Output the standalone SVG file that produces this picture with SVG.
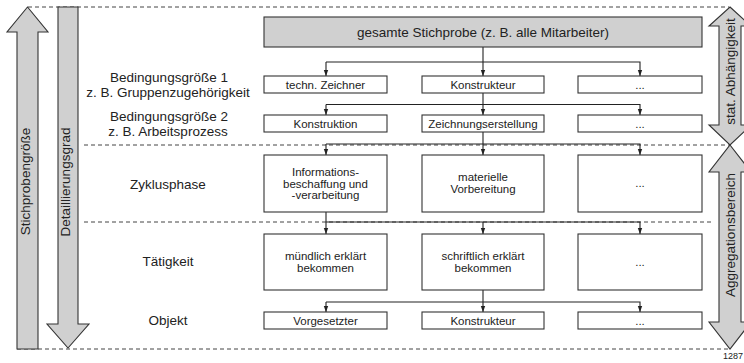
<svg xmlns="http://www.w3.org/2000/svg" width="744" height="363" viewBox="0 0 744 363">
<style>
text{font-family:"Liberation Sans",Arial,sans-serif;fill:#222}
.lbl{font-size:13.5px;text-anchor:middle}
.bt{font-size:11.5px;text-anchor:middle}
.box{fill:#fff;stroke:#333;stroke-width:1.1}
.big{fill:#d0d0d0;stroke:#333;stroke-width:1.1}
.dash{fill:none;stroke:#444;stroke-width:1;stroke-dasharray:4 3}
.con{fill:none;stroke:#222;stroke-width:1.1}
</style>
<defs>
<marker id="ah" markerWidth="6" markerHeight="8" refX="6" refY="3" orient="auto" markerUnits="userSpaceOnUse">
<path d="M0,0.8 L6,3 L0,5.2 z" fill="#222"/>
</marker>
</defs>
<rect width="744" height="363" fill="#fff"/>

<g id="guides">
<line class="dash" x1="28" y1="7" x2="729" y2="7"/>
<line class="dash" x1="84" y1="145" x2="729" y2="145"/>
<line class="dash" x1="84" y1="222" x2="712" y2="222"/>
<line class="dash" x1="17" y1="349" x2="730" y2="349"/>
</g>

<g id="arrow-stichprobengroesse">
<polygon class="big" points="27.5,7 48,32 38,32 38,349 17,349 17,32 7,32"/>
<text class="lbl" transform="translate(30,181.5) rotate(-90)">Stichprobengröße</text>
</g>
<g id="arrow-detaillierungsgrad">
<polygon class="big" points="58,7 78,7 78,324 89,324 68,348 47,324 58,324"/>
<text class="lbl" transform="translate(70,182) rotate(-90)">Detaillierungsgrad</text>
</g>
<g id="arrow-stat">
<polygon class="big" points="730,7 751,26 741,26 741,125 751,125 730,145 709,125 719,125 719,26 709,26"/>
<text class="lbl" transform="translate(735,71.5) rotate(-90)">stat. Abhängigkeit</text>
</g>
<g id="arrow-aggregation">
<polygon class="big" points="730,145 751,172 741,172 741,322 751,322 730,349 709,322 719,322 719,172 709,172"/>
<text class="lbl" transform="translate(735,235) rotate(-90)">Aggregationsbereich</text>
</g>

<g id="level-labels">
<text class="lbl" x="169" y="81.5">Bedingungsgröße 1</text>
<text class="lbl" x="168" y="96.5">z. B. Gruppenzugehörigkeit</text>
<text class="lbl" x="169" y="120.5">Bedingungsgröße 2</text>
<text class="lbl" x="168" y="135.5">z. B. Arbeitsprozess</text>
<text class="lbl" x="168" y="189">Zyklusphase</text>
<text class="lbl" x="168" y="266">Tätigkeit</text>
<text class="lbl" x="168" y="325">Objekt</text>
</g>

<g id="connectors">
<line class="con" x1="483" y1="47" x2="483" y2="76" marker-end="url(#ah)"/>
<polyline class="con" points="326,62 640,62 640,76" marker-end="url(#ah)"/>
<line class="con" x1="326" y1="62" x2="326" y2="76" marker-end="url(#ah)"/>

<line class="con" x1="483" y1="93" x2="483" y2="115" marker-end="url(#ah)"/>
<polyline class="con" points="326,104.5 640,104.5 640,115" marker-end="url(#ah)"/>
<line class="con" x1="326" y1="104.5" x2="326" y2="115" marker-end="url(#ah)"/>

<line class="con" x1="483" y1="132" x2="483" y2="155" marker-end="url(#ah)"/>
<polyline class="con" points="326,144 640,144 640,155" marker-end="url(#ah)"/>
<line class="con" x1="326" y1="144" x2="326" y2="155" marker-end="url(#ah)"/>

<line class="con" x1="326" y1="212" x2="326" y2="234" marker-end="url(#ah)"/>
<polyline class="con" points="326,222 640,222 640,234" marker-end="url(#ah)"/>
<line class="con" x1="483" y1="222" x2="483" y2="234" marker-end="url(#ah)"/>

<line class="con" x1="483" y1="290" x2="483" y2="312" marker-end="url(#ah)"/>
<polyline class="con" points="326,302 640,302 640,312" marker-end="url(#ah)"/>
<line class="con" x1="326" y1="302" x2="326" y2="312" marker-end="url(#ah)"/>
</g>

<g id="n-gesamt">
<rect class="big" x="264" y="17" width="438" height="30"/>
<text class="lbl" x="483" y="37">gesamte Stichprobe (z. B. alle Mitarbeiter)</text>
</g>

<g id="n-zeichner"><rect class="box" x="264" y="76" width="123" height="17"/><text class="bt" x="325.5" y="89">techn. Zeichner</text></g>
<g id="n-konstrukteur1"><rect class="box" x="422" y="76" width="122" height="17"/><text class="bt" x="483" y="89">Konstrukteur</text></g>
<g id="n-dots1"><rect class="box" x="578" y="76" width="124" height="17"/><text class="bt" x="640" y="89">...</text></g>

<g id="n-konstruktion"><rect class="box" x="264" y="115" width="123" height="17"/><text class="bt" x="325.5" y="128">Konstruktion</text></g>
<g id="n-zeichnungserstellung"><rect class="box" x="422" y="115" width="122" height="17"/><text class="bt" x="483" y="128">Zeichnungserstellung</text></g>
<g id="n-dots2"><rect class="box" x="578" y="115" width="124" height="17"/><text class="bt" x="640" y="128">...</text></g>

<g id="n-information"><rect class="box" x="264" y="155" width="123" height="57"/>
<text class="bt" x="325.5" y="176">Informations-</text>
<text class="bt" x="325.5" y="187.5">beschaffung und</text>
<text class="bt" x="325.5" y="199">-verarbeitung</text></g>
<g id="n-materielle"><rect class="box" x="422" y="155" width="122" height="57"/>
<text class="bt" x="483" y="180.5">materielle</text>
<text class="bt" x="483" y="192.5">Vorbereitung</text></g>
<g id="n-dots3"><rect class="box" x="578" y="155" width="124" height="57"/><text class="bt" x="640" y="187">...</text></g>

<g id="n-muendlich"><rect class="box" x="264" y="234" width="123" height="56"/>
<text class="bt" x="325.5" y="260">mündlich erklärt</text>
<text class="bt" x="325.5" y="272">bekommen</text></g>
<g id="n-schriftlich"><rect class="box" x="422" y="234" width="122" height="56"/>
<text class="bt" x="483" y="260">schriftlich erklärt</text>
<text class="bt" x="483" y="272">bekommen</text></g>
<g id="n-dots4"><rect class="box" x="578" y="234" width="124" height="56"/><text class="bt" x="640" y="266">...</text></g>

<g id="n-vorgesetzter"><rect class="box" x="264" y="312" width="123" height="17"/><text class="bt" x="325.5" y="325">Vorgesetzter</text></g>
<g id="n-konstrukteur2"><rect class="box" x="422" y="312" width="122" height="17"/><text class="bt" x="483" y="325">Konstrukteur</text></g>
<g id="n-dots5"><rect class="box" x="578" y="312" width="124" height="17"/><text class="bt" x="640" y="325">...</text></g>

<text x="723" y="359" style="font-size:9px">1287</text>
</svg>
